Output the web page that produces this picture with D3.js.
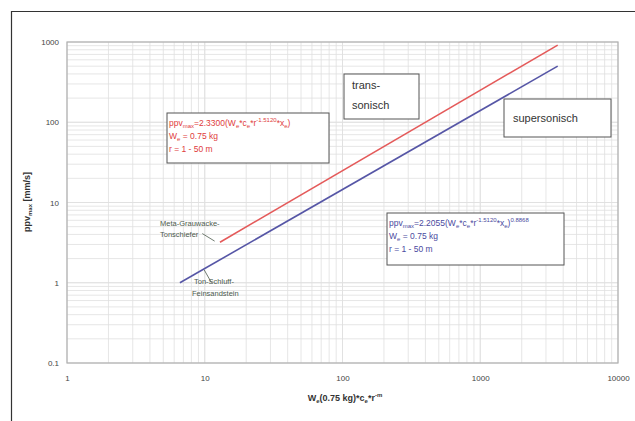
<!DOCTYPE html>
<html>
<head>
<meta charset="utf-8">
<script src="https://cdn.jsdelivr.net/npm/d3@7"></script>
<style>
  body { margin: 0; background: #fff; }
  svg { font-family: "Liberation Sans", Arial, sans-serif; }
</style>
</head>
<body>
<div id="chart"></div>
<script>
// data (log-log, straight lines)
var xTicks = [1, 10, 100, 1000, 10000];
var yTicks = [0.1, 1, 10, 100, 1000];
var redLine = [[12.9, 3.2], [3650, 915]];   // Meta-Grauwacke-Tonschiefer
var blueLine = [[6.6, 1.0], [3650, 500]];   // Ton-Schluff-Feinsandstein

var width = 635, height = 421;
var margin = {left: 67, right: 17, top: 42, bottom: 58};

var svg = d3.select("#chart").append("svg")
  .attr("width", width)
  .attr("height", height);

// outer frame (cut off on right/bottom)
svg.append("path")
  .attr("d", "M11.5," + height + " V11.5 H" + width)
  .attr("fill", "none")
  .attr("stroke", "#333")
  .attr("stroke-width", 1.2);

var x = d3.scaleLog().domain([1, 10000]).range([margin.left, width - margin.right]);
var y = d3.scaleLog().domain([0.1, 1000]).range([height - margin.bottom, margin.top]);

// grid
var minorX = [], minorY = [];
for (var d = 1; d < 10000; d *= 10)
  for (var k = 1; k <= 10; k++) minorX.push(d * k);
for (var d = 0.1; d < 1000; d *= 10)
  for (var k = 1; k <= 10; k++) minorY.push(d * k);

var grid = svg.append("g");
grid.selectAll(".gx").data(minorX).enter().append("line")
  .attr("x1", function(d) { return x(d); })
  .attr("x2", function(d) { return x(d); })
  .attr("y1", y(0.1)).attr("y2", y(1000))
  .attr("stroke", "#e0e0e0").attr("stroke-width", 0.8);
grid.selectAll(".gy").data(minorY).enter().append("line")
  .attr("y1", function(d) { return y(d); })
  .attr("y2", function(d) { return y(d); })
  .attr("x1", x(1)).attr("x2", x(10000))
  .attr("stroke", "#e0e0e0").attr("stroke-width", 0.8);

// plot frame
svg.append("rect")
  .attr("x", x(1)).attr("y", y(1000))
  .attr("width", x(10000) - x(1))
  .attr("height", y(0.1) - y(1000))
  .attr("fill", "none")
  .attr("stroke", "#b0b0b0")
  .attr("stroke-width", 1.2);

// axes
var xAxis = svg.append("g")
  .attr("transform", "translate(0," + y(0.1) + ")")
  .call(d3.axisBottom(x).tickValues(xTicks).tickFormat(d3.format("")).tickSize(0).tickPadding(12));
var yAxis = svg.append("g")
  .attr("transform", "translate(" + x(1) + ",0)")
  .call(d3.axisLeft(y).tickValues(yTicks).tickFormat(function(d) { return String(d); }).tickSize(0).tickPadding(8));
[xAxis, yAxis].forEach(function(a) {
  a.select(".domain").remove();
  a.selectAll("text").attr("font-size", 8).attr("fill", "#444")
    .attr("font-family", "Liberation Sans, Arial, sans-serif");
});

// axis titles
var xt = svg.append("text")
  .attr("x", 345).attr("y", 401)
  .attr("text-anchor", "middle")
  .attr("font-size", 9).attr("font-weight", "bold").attr("fill", "#333");
xt.append("tspan").text("W");
xt.append("tspan").attr("font-size", 6).attr("dy", 2).text("e");
xt.append("tspan").attr("dy", -2).text("(0.75 kg)*c");
xt.append("tspan").attr("font-size", 6).attr("dy", 2).text("e");
xt.append("tspan").attr("dy", -2).text("*r");
xt.append("tspan").attr("font-size", 6).attr("dy", -4).text("-m");

var yt = svg.append("text")
  .attr("transform", "translate(30," + 202 + ") rotate(-90)")
  .attr("text-anchor", "middle")
  .attr("font-size", 9).attr("font-weight", "bold").attr("fill", "#333");
yt.append("tspan").text("ppv");
yt.append("tspan").attr("font-size", 6).attr("dy", 2).text("max");
yt.append("tspan").attr("dy", -2).text(" [mm/s]");

// lines
var line = d3.line()
  .x(function(d) { return x(d[0]); })
  .y(function(d) { return y(d[1]); });
svg.append("path").datum(redLine).attr("d", line)
  .attr("fill", "none").attr("stroke", "#e45a5a").attr("stroke-width", 1.6);
svg.append("path").datum(blueLine).attr("d", line)
  .attr("fill", "none").attr("stroke", "#5656a6").attr("stroke-width", 1.6);

// annotation boxes
function box(x0, y0, x1, y1) {
  svg.append("rect")
    .attr("x", x(x0)).attr("y", y(y0))
    .attr("width", x(x1) - x(x0)).attr("height", y(y1) - y(y0))
    .attr("fill", "#fff").attr("stroke", "#555").attr("stroke-width", 1);
}

function formula(px, py, color, coef, expo, outer) {
  var g = svg.append("g").attr("fill", color).attr("font-size", 8.5);
  var t = g.append("text").attr("x", px).attr("y", py);
  t.append("tspan").text("ppv");
  t.append("tspan").attr("font-size", 6).attr("dy", 2).text("max");
  t.append("tspan").attr("dy", -2).text("=" + coef + "(W");
  t.append("tspan").attr("font-size", 6).attr("dy", 2).text("e");
  t.append("tspan").attr("dy", -2).text("*c");
  t.append("tspan").attr("font-size", 6).attr("dy", 2).text("e");
  t.append("tspan").attr("dy", -2).text("*r");
  t.append("tspan").attr("font-size", 6).attr("dy", -4).text(expo);
  t.append("tspan").attr("dy", 4).text("*x");
  t.append("tspan").attr("font-size", 6).attr("dy", 2).text("e");
  t.append("tspan").attr("dy", -2).text(")");
  if (outer) t.append("tspan").attr("font-size", 6).attr("dy", -4).text(outer);
  var t2 = g.append("text").attr("x", px).attr("y", py + 13);
  t2.append("tspan").text("W");
  t2.append("tspan").attr("font-size", 6).attr("dy", 2).text("e");
  t2.append("tspan").attr("dy", -2).text(" = 0.75 kg");
  g.append("text").attr("x", px).attr("y", py + 26).text("r = 1 - 50 m");
}

// red formula box
box(x.invert(167), y.invert(113), x.invert(329), y.invert(163));
formula(169, 126, "#e03c3c", "2.3300", "-1.5120", null);

// blue formula box
box(x.invert(387), y.invert(213), x.invert(564), y.invert(265));
formula(389, 226, "#4a4aa0", "2.2055", "-1.5120", "0.8868");

// trans-sonisch
box(x.invert(344), y.invert(74), x.invert(419), y.invert(119));
svg.append("text").attr("x", 352).attr("y", 89).attr("font-size", 11).attr("fill", "#333").text("trans-");
svg.append("text").attr("x", 352).attr("y", 109).attr("font-size", 11).attr("fill", "#333").text("sonisch");

// supersonisch
box(x.invert(504), y.invert(99), x.invert(611), y.invert(137));
svg.append("text").attr("x", 513).attr("y", 122).attr("font-size", 11).attr("fill", "#333").text("supersonisch");

// line labels
var lab = "#4d5a4d";
svg.append("text").attr("x", 160).attr("y", 226).attr("font-size", 7.5).attr("fill", lab).text("Meta-Grauwacke-");
svg.append("text").attr("x", 160).attr("y", 237).attr("font-size", 7.5).attr("fill", lab).text("Tonschiefer");
svg.append("line")
  .attr("x1", x(9.6)).attr("y1", y(4.1))
  .attr("x2", x(11.8)).attr("y2", y(3.3))
  .attr("stroke", lab).attr("stroke-width", 0.8);

svg.append("text").attr("x", 194).attr("y", 284).attr("font-size", 7.5).attr("fill", lab).text("Ton-Schluff-");
svg.append("text").attr("x", 192).attr("y", 296).attr("font-size", 7.5).attr("fill", lab).text("Feinsandstein");
svg.append("line")
  .attr("x1", x(9.9)).attr("y1", y(1.45))
  .attr("x2", x(11.2)).attr("y2", y(1.0))
  .attr("stroke", lab).attr("stroke-width", 0.8);
</script>
</body>
</html>
